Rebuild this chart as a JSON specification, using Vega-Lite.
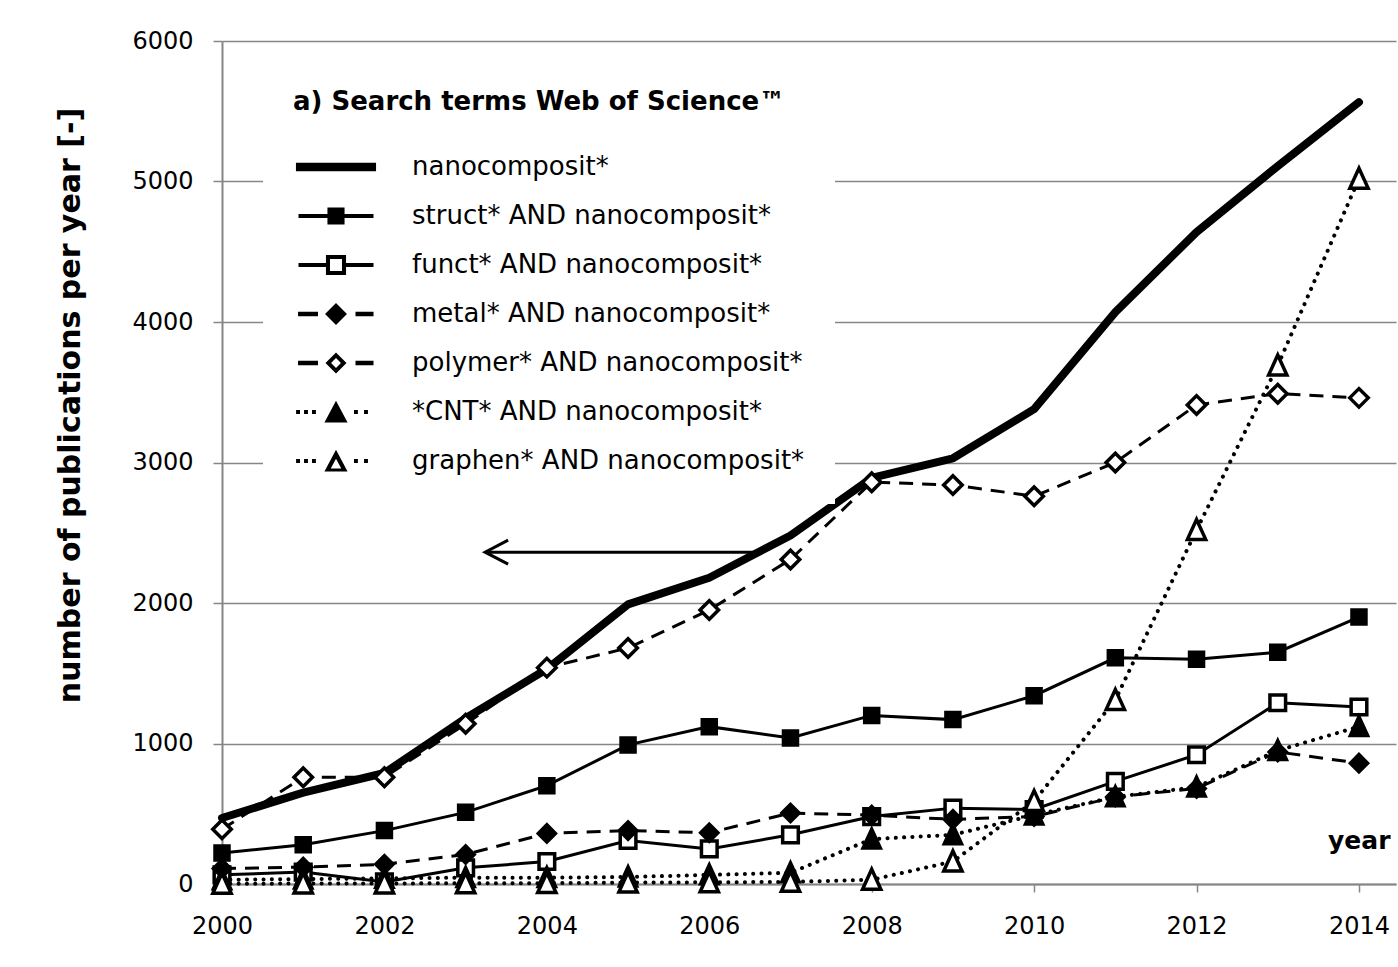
{
  "$schema": "https://vega.github.io/schema/vega-lite/v6.json",
  "width": 1174,
  "height": 843,
  "autosize": {"type": "none"},
  "padding": {"left": 222, "top": 41, "right": 2, "bottom": 83},
  "background": "white",
  "data": {"values": [
    {"year": 2000, "series": "nanocomposit*", "value": 470},
    {"year": 2001, "series": "nanocomposit*", "value": 650},
    {"year": 2002, "series": "nanocomposit*", "value": 790},
    {"year": 2003, "series": "nanocomposit*", "value": 1180},
    {"year": 2004, "series": "nanocomposit*", "value": 1530},
    {"year": 2005, "series": "nanocomposit*", "value": 1990},
    {"year": 2006, "series": "nanocomposit*", "value": 2180},
    {"year": 2007, "series": "nanocomposit*", "value": 2480},
    {"year": 2008, "series": "nanocomposit*", "value": 2890},
    {"year": 2009, "series": "nanocomposit*", "value": 3030},
    {"year": 2010, "series": "nanocomposit*", "value": 3380},
    {"year": 2011, "series": "nanocomposit*", "value": 4070},
    {"year": 2012, "series": "nanocomposit*", "value": 4640},
    {"year": 2013, "series": "nanocomposit*", "value": 5110},
    {"year": 2014, "series": "nanocomposit*", "value": 5565},
    {"year": 2000, "series": "struct* AND nanocomposit*", "value": 220},
    {"year": 2001, "series": "struct* AND nanocomposit*", "value": 280},
    {"year": 2002, "series": "struct* AND nanocomposit*", "value": 380},
    {"year": 2003, "series": "struct* AND nanocomposit*", "value": 510},
    {"year": 2004, "series": "struct* AND nanocomposit*", "value": 700},
    {"year": 2005, "series": "struct* AND nanocomposit*", "value": 990},
    {"year": 2006, "series": "struct* AND nanocomposit*", "value": 1120},
    {"year": 2007, "series": "struct* AND nanocomposit*", "value": 1040},
    {"year": 2008, "series": "struct* AND nanocomposit*", "value": 1200},
    {"year": 2009, "series": "struct* AND nanocomposit*", "value": 1170},
    {"year": 2010, "series": "struct* AND nanocomposit*", "value": 1340},
    {"year": 2011, "series": "struct* AND nanocomposit*", "value": 1610},
    {"year": 2012, "series": "struct* AND nanocomposit*", "value": 1600},
    {"year": 2013, "series": "struct* AND nanocomposit*", "value": 1650},
    {"year": 2014, "series": "struct* AND nanocomposit*", "value": 1900},
    {"year": 2000, "series": "funct* AND nanocomposit*", "value": 65},
    {"year": 2001, "series": "funct* AND nanocomposit*", "value": 85},
    {"year": 2002, "series": "funct* AND nanocomposit*", "value": 15},
    {"year": 2003, "series": "funct* AND nanocomposit*", "value": 115},
    {"year": 2004, "series": "funct* AND nanocomposit*", "value": 160},
    {"year": 2005, "series": "funct* AND nanocomposit*", "value": 310},
    {"year": 2006, "series": "funct* AND nanocomposit*", "value": 250},
    {"year": 2007, "series": "funct* AND nanocomposit*", "value": 350},
    {"year": 2008, "series": "funct* AND nanocomposit*", "value": 480},
    {"year": 2009, "series": "funct* AND nanocomposit*", "value": 540},
    {"year": 2010, "series": "funct* AND nanocomposit*", "value": 530},
    {"year": 2011, "series": "funct* AND nanocomposit*", "value": 730},
    {"year": 2012, "series": "funct* AND nanocomposit*", "value": 920},
    {"year": 2013, "series": "funct* AND nanocomposit*", "value": 1290},
    {"year": 2014, "series": "funct* AND nanocomposit*", "value": 1260},
    {"year": 2000, "series": "metal* AND nanocomposit*", "value": 110},
    {"year": 2001, "series": "metal* AND nanocomposit*", "value": 120},
    {"year": 2002, "series": "metal* AND nanocomposit*", "value": 140},
    {"year": 2003, "series": "metal* AND nanocomposit*", "value": 210},
    {"year": 2004, "series": "metal* AND nanocomposit*", "value": 360},
    {"year": 2005, "series": "metal* AND nanocomposit*", "value": 380},
    {"year": 2006, "series": "metal* AND nanocomposit*", "value": 365},
    {"year": 2007, "series": "metal* AND nanocomposit*", "value": 505},
    {"year": 2008, "series": "metal* AND nanocomposit*", "value": 490},
    {"year": 2009, "series": "metal* AND nanocomposit*", "value": 460},
    {"year": 2010, "series": "metal* AND nanocomposit*", "value": 480},
    {"year": 2011, "series": "metal* AND nanocomposit*", "value": 620},
    {"year": 2012, "series": "metal* AND nanocomposit*", "value": 680},
    {"year": 2013, "series": "metal* AND nanocomposit*", "value": 940},
    {"year": 2014, "series": "metal* AND nanocomposit*", "value": 860},
    {"year": 2000, "series": "polymer* AND nanocomposit*", "value": 390},
    {"year": 2001, "series": "polymer* AND nanocomposit*", "value": 760},
    {"year": 2002, "series": "polymer* AND nanocomposit*", "value": 760},
    {"year": 2003, "series": "polymer* AND nanocomposit*", "value": 1140},
    {"year": 2004, "series": "polymer* AND nanocomposit*", "value": 1540},
    {"year": 2005, "series": "polymer* AND nanocomposit*", "value": 1680},
    {"year": 2006, "series": "polymer* AND nanocomposit*", "value": 1950},
    {"year": 2007, "series": "polymer* AND nanocomposit*", "value": 2310},
    {"year": 2008, "series": "polymer* AND nanocomposit*", "value": 2860},
    {"year": 2009, "series": "polymer* AND nanocomposit*", "value": 2840},
    {"year": 2010, "series": "polymer* AND nanocomposit*", "value": 2760},
    {"year": 2011, "series": "polymer* AND nanocomposit*", "value": 3000},
    {"year": 2012, "series": "polymer* AND nanocomposit*", "value": 3410},
    {"year": 2013, "series": "polymer* AND nanocomposit*", "value": 3490},
    {"year": 2014, "series": "polymer* AND nanocomposit*", "value": 3460},
    {"year": 2000, "series": "*CNT* AND nanocomposit*", "value": 30},
    {"year": 2001, "series": "*CNT* AND nanocomposit*", "value": 35},
    {"year": 2002, "series": "*CNT* AND nanocomposit*", "value": 40},
    {"year": 2003, "series": "*CNT* AND nanocomposit*", "value": 45},
    {"year": 2004, "series": "*CNT* AND nanocomposit*", "value": 45},
    {"year": 2005, "series": "*CNT* AND nanocomposit*", "value": 50},
    {"year": 2006, "series": "*CNT* AND nanocomposit*", "value": 65},
    {"year": 2007, "series": "*CNT* AND nanocomposit*", "value": 80},
    {"year": 2008, "series": "*CNT* AND nanocomposit*", "value": 320},
    {"year": 2009, "series": "*CNT* AND nanocomposit*", "value": 350},
    {"year": 2010, "series": "*CNT* AND nanocomposit*", "value": 490},
    {"year": 2011, "series": "*CNT* AND nanocomposit*", "value": 620},
    {"year": 2012, "series": "*CNT* AND nanocomposit*", "value": 690},
    {"year": 2013, "series": "*CNT* AND nanocomposit*", "value": 950},
    {"year": 2014, "series": "*CNT* AND nanocomposit*", "value": 1120},
    {"year": 2000, "series": "graphen* AND nanocomposit*", "value": 2},
    {"year": 2001, "series": "graphen* AND nanocomposit*", "value": 3},
    {"year": 2002, "series": "graphen* AND nanocomposit*", "value": 4},
    {"year": 2003, "series": "graphen* AND nanocomposit*", "value": 5},
    {"year": 2004, "series": "graphen* AND nanocomposit*", "value": 6},
    {"year": 2005, "series": "graphen* AND nanocomposit*", "value": 10},
    {"year": 2006, "series": "graphen* AND nanocomposit*", "value": 12},
    {"year": 2007, "series": "graphen* AND nanocomposit*", "value": 15},
    {"year": 2008, "series": "graphen* AND nanocomposit*", "value": 30},
    {"year": 2009, "series": "graphen* AND nanocomposit*", "value": 160},
    {"year": 2010, "series": "graphen* AND nanocomposit*", "value": 590},
    {"year": 2011, "series": "graphen* AND nanocomposit*", "value": 1310},
    {"year": 2012, "series": "graphen* AND nanocomposit*", "value": 2520},
    {"year": 2013, "series": "graphen* AND nanocomposit*", "value": 3690},
    {"year": 2014, "series": "graphen* AND nanocomposit*", "value": 5020}
  ]},
  "encoding": {
    "x": {
      "field": "year", "type": "quantitative",
      "scale": {"domain": [2000, 2014.456], "nice": false, "zero": false},
      "axis": {
        "values": [2000, 2002, 2004, 2006, 2008, 2010, 2012, 2014],
        "format": "d", "grid": false,
        "domainWidth": 2, "tickSize": 8, "tickWidth": 1.5, "labelPadding": 22,
        "labelFontSize": 24, "labelFlush": false,
        "title": "year", "titleFontSize": 25, "titleX": 1168, "titleY": -36,
        "titleAlign": "right", "titleBaseline": "alphabetic", "titleAnchor": null
      }
    },
    "y": {
      "field": "value", "type": "quantitative",
      "scale": {"domain": [0, 6000], "nice": false},
      "axis": {
        "values": [0, 1000, 2000, 3000, 4000, 5000, 6000],
        "format": "d", "grid": true, "gridWidth": 1.5,
        "domainWidth": 2, "tickSize": 9, "tickWidth": 1.5, "labelPadding": 20,
        "labelFontSize": 24,
        "title": "number of publications per year [-]",
        "titleFontSize": 30, "titleX": -152, "titleY": 364, "titleAngle": 270,
        "titleAlign": "center", "titleBaseline": "middle", "titleAnchor": null
      }
    }
  },
  "layer": [
    {
      "transform": [{"filter": {"field": "series", "equal": "nanocomposit*"}}],
      "mark": {"type": "line", "color": "black", "strokeWidth": 8, "strokeCap": "round", "strokeJoin": "round"},
      "encoding": {"detail": {"field": "series"}}
    },
    {
      "transform": [{"filter": {"field": "series", "oneOf": ["struct* AND nanocomposit*", "funct* AND nanocomposit*"]}}],
      "mark": {"type": "line", "color": "black", "strokeWidth": 3},
      "encoding": {"detail": {"field": "series"}}
    },
    {
      "transform": [{"filter": {"field": "series", "oneOf": ["metal* AND nanocomposit*", "polymer* AND nanocomposit*"]}}],
      "mark": {"type": "line", "color": "black", "strokeWidth": 3, "strokeDash": [14, 9]},
      "encoding": {"detail": {"field": "series"}}
    },
    {
      "transform": [{"filter": {"field": "series", "oneOf": ["*CNT* AND nanocomposit*", "graphen* AND nanocomposit*"]}}],
      "mark": {"type": "line", "color": "black", "strokeWidth": 4, "strokeDash": [0.1, 8.2], "strokeCap": "round"},
      "encoding": {"detail": {"field": "series"}}
    },
    {
      "data": {"values": [{"year": 2003.24, "year_end": 2006.54, "value": 2362}]},
      "mark": {"type": "rule", "color": "black", "strokeWidth": 3},
      "encoding": {"x2": {"field": "year_end"}}
    },
    {
      "data": {"values": [{"year": 2003.24, "value": 2362}]},
      "mark": {"type": "point", "filled": false, "stroke": "black", "strokeWidth": 3, "shape": "M2,-1.04L0,0L2,1.04", "size": 529, "opacity": 1},
      "encoding": {}
    },
    {
      "transform": [{"filter": {"not": {"field": "series", "equal": "nanocomposit*"}}}],
      "mark": {"type": "point", "filled": true, "stroke": "black", "strokeWidth": 3.5, "opacity": 1, "fillOpacity": 1, "strokeOpacity": 1},
      "encoding": {
        "shape": {
          "field": "series",
          "scale": {
            "domain": ["struct* AND nanocomposit*", "funct* AND nanocomposit*", "metal* AND nanocomposit*", "polymer* AND nanocomposit*", "*CNT* AND nanocomposit*", "graphen* AND nanocomposit*"],
            "range": ["square", "square", "diamond", "diamond", "M0,-1L0.87,0.9L-0.87,0.9Z", "M0,-1L0.87,0.9L-0.87,0.9Z"]
          },
          "legend": null
        },
        "fill": {
          "field": "series",
          "scale": {
            "domain": ["struct* AND nanocomposit*", "funct* AND nanocomposit*", "metal* AND nanocomposit*", "polymer* AND nanocomposit*", "*CNT* AND nanocomposit*", "graphen* AND nanocomposit*"],
            "range": ["black", "white", "black", "white", "black", "white"]
          },
          "legend": null
        },
        "size": {
          "field": "series",
          "scale": {
            "domain": ["struct* AND nanocomposit*", "funct* AND nanocomposit*", "metal* AND nanocomposit*", "polymer* AND nanocomposit*", "*CNT* AND nanocomposit*", "graphen* AND nanocomposit*"],
            "range": [196, 441, 441, 529, 700, 700]
          },
          "legend": null
        }
      }
    },
    {
      "mark": {"type": "point", "filled": true, "color": "black", "size": 0, "strokeWidth": 0, "opacity": 1, "fillOpacity": 1},
      "encoding": {
        "shape": {
          "field": "series",
          "scale": {
            "domain": ["nanocomposit*", "struct* AND nanocomposit*", "funct* AND nanocomposit*", "metal* AND nanocomposit*", "polymer* AND nanocomposit*", "*CNT* AND nanocomposit*", "graphen* AND nanocomposit*"],
            "range": [
              "M-2.67,-0.29H2.67V0.29H-2.67Z",
              "M-2.5,-0.13H2.5V0.13H-2.5Z M-0.57,-0.57H0.57V0.57H-0.57Z",
              "M-2.5,-0.13H-0.67V0.13H-2.5Z M0.67,-0.13H2.5V0.13H0.67Z M-0.67,-0.67H0.67V0.67H-0.67Z M-0.4,-0.4V0.4H0.4V-0.4Z",
              "M-2.53,-0.15H-1.2V0.15H-2.53Z M1.3,-0.15H2.5V0.15H1.3Z M0,-0.73L0.73,0L0,0.73L-0.73,0Z",
              "M-2.53,-0.15H-1.2V0.15H-2.53Z M1.3,-0.15H2.5V0.15H1.3Z M0,-0.7L0.7,0L0,0.7L-0.7,0Z M0,-0.33L-0.33,0L0,0.33L0.33,0Z",
              "M-2.66,-0.13H-2.4V0.13H-2.66Z M-2.13,-0.13H-1.87V0.13H-2.13Z M-1.6,-0.13H-1.34V0.13H-1.6Z M1.2,-0.13H1.46V0.13H1.2Z M1.87,-0.13H2.13V0.13H1.87Z M0,-0.75L0.77,0.7L-0.77,0.7Z",
              "M-2.66,-0.13H-2.4V0.13H-2.66Z M-2.13,-0.13H-1.87V0.13H-2.13Z M-1.6,-0.13H-1.34V0.13H-1.6Z M1.2,-0.13H1.46V0.13H1.2Z M1.87,-0.13H2.13V0.13H1.87Z M0,-0.75L0.77,0.7L-0.77,0.7Z M0,-0.15L-0.35,0.5L0.35,0.5Z"
            ]
          },
          "legend": {
            "orient": "none", "legendX": 41, "legendY": 18,
            "title": "a) Search terms Web of Science™",
            "titleFont": "DejaVu Sans", "titleFontWeight": "bold", "titleFontSize": 26, "titleColor": "black",
            "titleLimit": 800, "titlePadding": 37,
            "labelFont": "DejaVu Sans", "labelFontSize": 26, "labelColor": "black", "labelLimit": 800,
            "symbolSize": 900, "symbolOffset": 28, "labelOffset": 61, "rowPadding": 21,
            "padding": 30, "fillColor": "white", "strokeColor": null,
            "symbolStrokeWidth": 0, "symbolFillColor": "black", "symbolOpacity": 1
          }
        }
      }
    }
  ],
  "resolve": {"scale": {"shape": "independent"}},
  "config": {
    "view": {"stroke": null},
    "font": "DejaVu Sans",
    "axis": {
      "domainColor": "#868686", "tickColor": "#868686", "gridColor": "#868686",
      "labelFont": "DejaVu Sans", "labelColor": "black",
      "titleFont": "DejaVu Sans", "titleFontWeight": "bold", "titleColor": "black"
    }
  }
}
